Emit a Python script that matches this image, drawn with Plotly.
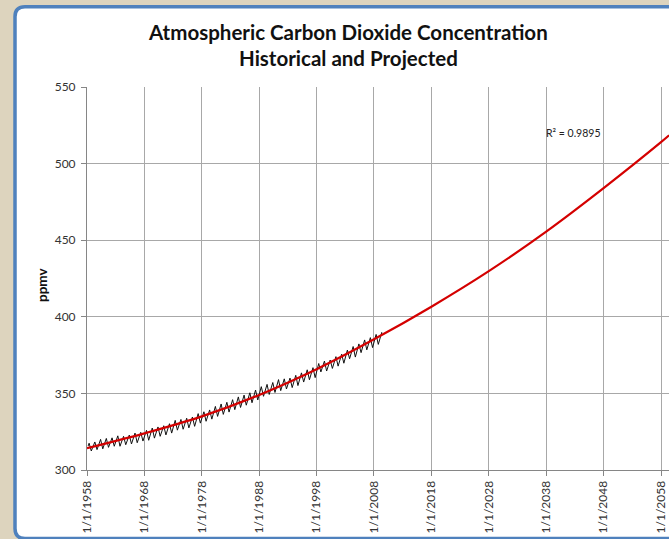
import plotly.graph_objects as go

# ---------------- data ----------------
hist_years = list(range(1958, 2010))
may_peaks = [317.5, 318.3, 320.0, 320.6, 321.0, 322.3, 322.0, 322.8, 324.1, 324.6,
             325.9, 327.4, 328.1, 328.9, 330.2, 332.4, 333.0, 333.8, 334.6, 336.8,
             338.0, 339.2, 341.5, 343.1, 344.2, 345.9, 347.7, 348.9, 350.4, 352.2,
             354.4, 355.9, 357.1, 359.0, 359.5, 360.0, 361.8, 363.4, 365.4, 366.8,
             369.5, 371.1, 371.8, 374.0, 375.6, 378.3, 380.6, 382.3, 384.9, 386.4,
             388.5, 390.0]
oct_troughs = [312.4, 313.3, 313.8, 314.8, 315.5, 315.5, 316.5, 317.0, 317.8, 318.9,
               319.4, 320.8, 322.0, 322.9, 324.1, 326.0, 326.6, 327.5, 328.5, 330.6,
               331.8, 333.2, 335.0, 336.3, 337.8, 339.4, 340.8, 342.3, 343.9, 345.7,
               348.1, 349.3, 350.6, 351.8, 352.9, 353.8, 355.1, 357.4, 358.9, 360.3,
               364.0, 364.6, 366.3, 367.8, 369.7, 372.6, 373.7, 376.6, 378.4, 379.9,
               382.0]
start_date = "1958-03-15"
start_value = 315.7

trend_dates = ["1958-01-01", "1968-01-01", "1978-01-01", "1988-01-01", "1998-01-01",
               "2008-01-01", "2018-01-01", "2028-01-01", "2038-01-01", "2048-01-01",
               "2058-01-01", "2059-06-01"]
trend_values = [314.2, 323.9, 335.0, 349.0, 365.8, 385.3, 406.6, 429.8, 455.6, 484.0,
                514.0, 518.5]

tick_years = list(range(1958, 2059, 10))
tick_dates = [f"{y}-01-01" for y in tick_years]
tick_text = [f"1/1/{y}" for y in tick_years]
y_ticks = [300, 350, 400, 450, 500, 550]

title_line1 = "Atmospheric Carbon Dioxide Concentration"
title_line2 = "Historical and Projected"
y_title = "ppmv"
r2_text = "R² = 0.9895"

# build historical sawtooth from seasonal peaks/troughs
hx, hy = [start_date], [start_value]
for i, yr in enumerate(hist_years):
    hx.append(f"{yr}-05-15")
    hy.append(may_peaks[i])
    if i < len(oct_troughs):
        hx.append(f"{yr}-10-01")
        hy.append(oct_troughs[i])

# ---------------- layout geometry ----------------
W, H = 669, 539
L, R, T, B = 87, 0, 87, 69
PW, PH = W - L - R, H - T - B
BG = "#ddd4be"


def px(x):
    return (x - L) / PW


def py(y):
    return (H - B - y) / PH


fig = go.Figure()
fig.add_trace(go.Scatter(x=hx, y=hy, mode="lines",
                         line=dict(color="#111111", width=1), hoverinfo="skip",
                         showlegend=False))
fig.add_trace(go.Scatter(x=trend_dates, y=trend_values, mode="lines",
                         line=dict(color="#d40000", width=2.2, shape="spline"),
                         hoverinfo="skip", showlegend=False))

# rounded white chart-area frame with blue border
x0, y0, x1, y1, r = 15, 6.8, 720, 538.5, 10
path = (f"M {px(x0 + r)},{py(y0)} L {px(x1)},{py(y0)} L {px(x1)},{py(y1)} "
        f"L {px(x0 + r)},{py(y1)} Q {px(x0)},{py(y1)} {px(x0)},{py(y1 - r)} "
        f"L {px(x0)},{py(y0 + r)} Q {px(x0)},{py(y0)} {px(x0 + r)},{py(y0)} Z")
fig.add_shape(type="path", path=path, xref="paper", yref="paper",
              fillcolor="white", line=dict(color="#4f81bd", width=3.5), layer="below")

grid = "#a8a8a8"
axis_col = "#868686"
tick_font = dict(family="Lato, Calibri, sans-serif", size=12, color="#333333")

fig.update_xaxes(type="date", range=["1958-01-01", "2059-05-25"],
                 tickmode="array", tickvals=tick_dates, ticktext=tick_text,
                 tickangle=-90, tickfont=tick_font,
                 showgrid=True, gridcolor=grid, gridwidth=1,
                 showline=True, linecolor=axis_col, linewidth=1,
                 ticks="outside", ticklen=5, tickcolor=axis_col,
                 zeroline=False)
fig.update_yaxes(range=[300, 550], tickmode="array", tickvals=y_ticks,
                 tickfont=tick_font, ticklabelstandoff=3,
                 showgrid=True, gridcolor=grid, gridwidth=1,
                 showline=True, linecolor=axis_col, linewidth=1,
                 ticks="outside", ticklen=5, tickcolor=axis_col,
                 zeroline=False)

title_font = dict(family="Lato, Calibri, sans-serif", size=20.5, color="#111111")
fig.add_annotation(text=f"<b>{title_line1}</b>", x=px(348), y=py(32),
                   xref="paper", yref="paper", showarrow=False,
                   xanchor="center", yanchor="middle", font=title_font)
fig.add_annotation(text=f"<b>{title_line2}</b>", x=px(348), y=py(58),
                   xref="paper", yref="paper", showarrow=False,
                   xanchor="center", yanchor="middle", font=title_font)
fig.add_annotation(text=f"<b>{y_title}</b>", x=px(42), y=py(285),
                   xref="paper", yref="paper", showarrow=False, textangle=-90,
                   xanchor="center", yanchor="middle",
                   font=dict(family="Lato, Calibri, sans-serif", size=13.5, color="#111111"))
fig.add_annotation(text=r2_text, x=px(544), y=py(133),
                   xref="paper", yref="paper", showarrow=False,
                   xanchor="left", yanchor="middle",
                   font=dict(family="Lato, Calibri, sans-serif", size=10.5, color="#222222"))

fig.update_layout(width=W, height=H,
                  margin=dict(l=L, r=R, t=T, b=B, pad=0),
                  paper_bgcolor=BG, plot_bgcolor="rgba(0,0,0,0)",
                  showlegend=False)

fig.write_html("out.html",
               config={"displayModeBar": False},
               post_script=f"document.body.style.margin='0';"
                           f"document.body.style.background='{BG}';")
